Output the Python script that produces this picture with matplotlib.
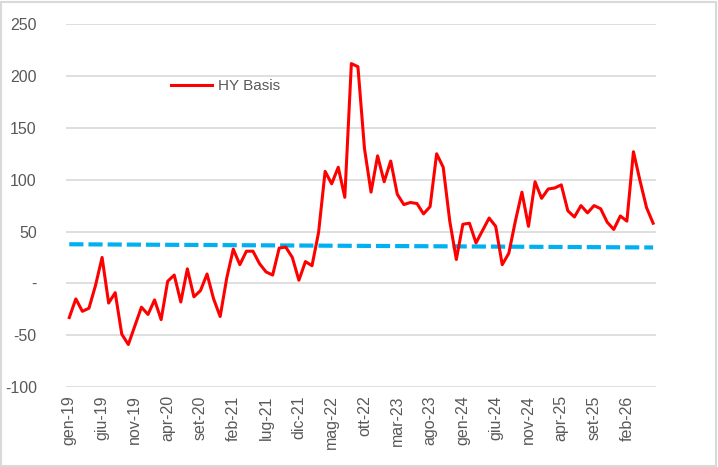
import matplotlib
matplotlib.use("Agg")
import matplotlib.pyplot as plt
from matplotlib.patches import Rectangle
from matplotlib.ticker import FuncFormatter

# ---- dati (mensili, gen-19 .. giu-26) ----
hy_basis = [-33, -15, -27, -24, -2, 25, -19, -9, -49, -59,
            -41, -23, -30, -16, -35, 2, 8, -18, 14, -13,
            -7, 9, -15, -32, 5, 33, 18, 31, 31, 19,
            11, 8, 34, 35, 25, 3, 21, 17, 49, 108,
            96, 112, 83, 212, 209, 130, 88, 123, 98, 118,
            86, 76, 78, 77, 67, 74, 125, 112, 60, 23,
            57, 58, 39, 51, 63, 55, 18, 29, 60, 88,
            55, 98, 82, 91, 92, 95, 70, 64, 75, 68,
            75, 72, 59, 52, 65, 60, 127, 99, 73, 58]

# linea media (tratteggiata) - estremi
avg_x = [0, 89]
avg_y = [37.7, 34.6]

tick_labels = ['gen-19', 'giu-19', 'nov-19', 'apr-20', 'set-20', 'feb-21',
               'lug-21', 'dic-21', 'mag-22', 'ott-22', 'mar-23', 'ago-23',
               'gen-24', 'giu-24', 'nov-24', 'apr-25', 'set-25', 'feb-26']
tick_pos = [5 * i for i in range(len(tick_labels))]

y_ticks = [-100, -50, 0, 50, 100, 150, 200, 250]

# ---- stile ----
plt.rcParams['font.family'] = ['Liberation Sans', 'DejaVu Sans']
grey_txt = '#595959'
grid_col = '#D9D9D9'

fig = plt.figure(figsize=(7.18, 4.67), dpi=100)
ax = fig.add_axes([66 / 718, 1 - 387 / 467, 590.4 / 718, (387 - 24.2) / 467])

x = list(range(len(hy_basis)))
ax.plot(avg_x, avg_y, color='#00B0F0', lw=3.0, dashes=(3.4, 1.2),
        solid_capstyle='butt', dash_capstyle='butt', zorder=2)
line, = ax.plot(x, hy_basis, color='#FF0000', lw=2.2, label='HY Basis', zorder=3)

ax.set_xlim(-0.5, len(hy_basis) - 0.5)
ax.set_ylim(-100, 250)
ax.set_yticks(y_ticks)
ax.yaxis.set_major_formatter(FuncFormatter(lambda v, p: '-' if v == 0 else f'{v:.0f}'))
ax.set_xticks(tick_pos)
ax.set_xticklabels(tick_labels, rotation=90)

ax.grid(axis='y', color=grid_col, lw=1.2)
ax.set_axisbelow(True)
for s in ax.spines.values():
    s.set_visible(False)
ax.tick_params(axis='both', length=0, colors=grey_txt, labelsize=11.5)
ax.tick_params(axis='y', pad=21)
ax.tick_params(axis='x', pad=6)

ax.legend(handles=[line], loc='center left', frameon=False, fontsize=11,
          bbox_to_anchor=(171 / 718, 1 - 86 / 467), bbox_transform=fig.transFigure,
          borderpad=0, borderaxespad=0, handlelength=2.7, handletextpad=0.35,
          labelcolor=grey_txt)

# bordo grafico
fig.patches.append(Rectangle((0.002, 0.003), 0.995, 0.993, transform=fig.transFigure,
                             fill=False, edgecolor=grid_col, lw=1.5))

fig.savefig('out.png', dpi=100)
